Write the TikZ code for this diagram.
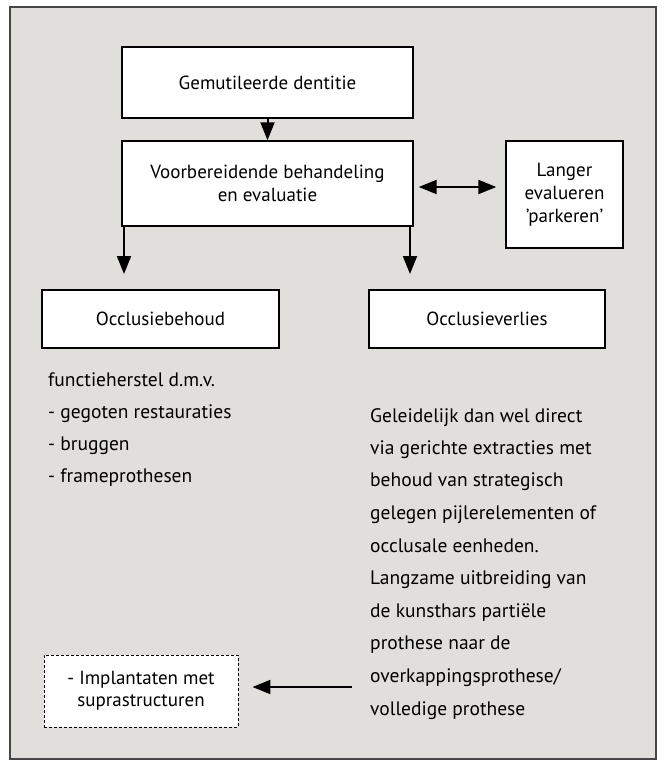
\documentclass[tikz,border=0pt]{standalone}
\usepackage{fontspec}
\setmainfont{PT Sans}
\usetikzlibrary{arrows.meta,calc}
\definecolor{panel}{RGB}{224,223,220}
\definecolor{framecol}{RGB}{70,70,70}
\tikzset{
  boxnode/.style={draw=black,line width=1.4pt,fill=white,align=center,inner sep=2pt,
    font=\fontsize{19}{23}\selectfont},
  dashbox/.style={draw=black,line width=0.9pt,dash pattern=on 3pt off 2pt,fill=white,align=center,
    font=\fontsize{19}{22}\selectfont},
  txt/.style={anchor=base west,inner sep=0pt,font=\fontsize{19.5}{22}\selectfont},
  arr/.style={line width=2pt,-{Triangle[length=18pt,width=14pt]}},
  darr/.style={line width=2pt,{Triangle[length=18pt,width=14pt]}-{Triangle[length=18pt,width=14pt]}}
}
\begin{document}
\begin{tikzpicture}[x=1pt,y=-1pt]
\useasboundingbox (0,0) rectangle (665,766);
\fill[white] (0,0) rectangle (665,766);
\draw[framecol,line width=1.4pt,fill=panel] (10,7) rectangle (656,759);

\node[boxnode,minimum width=291pt,minimum height=71pt] (b1) at (267.5,82.5) {Gemutileerde dentitie};
\node[boxnode,minimum width=291pt,minimum height=85pt] (b2) at (267.5,183.5) {Voorbereidende behandeling\\en evaluatie};
\node[boxnode,minimum width=117pt,minimum height=107pt] (lang) at (564.5,194.5) {Langer\\evalueren\\'parkeren'};
\node[boxnode,minimum width=237pt,minimum height=58pt] (ob) at (160.5,319) {Occlusiebehoud};
\node[boxnode,minimum width=236pt,minimum height=58pt] (ov) at (487,319) {Occlusieverlies};
\node[dashbox,minimum width=194pt,minimum height=72pt] (impl) at (141,691) {- Implantaten met\\suprastructuren};

\coordinate (la) at (124,274);
\coordinate (ra) at (410,274);
\coordinate (bs) at (352,687);

\draw[arr] (b1.south) -- (b2.north);
\draw[arr] (b2.south west -| la) -- (la);
\draw[arr] (b2.south west -| ra) -- (ra);
\draw[darr] ($(b2.east)+(5,3.5)$) -- ($(lang.west)+(-9,-7.5)$);
\draw[arr] (bs) -- ($(impl.east)+(14,-4)$);

\node[txt] (l1) at (48,386) {functieherstel d.m.v.};
\node[txt] (l2) at (48,418) {- gegoten restauraties};
\node[txt] (l3) at (48,450) {- bruggen};
\node[txt] (l4) at (48,482) {- frameprothesen};

\node[txt] (r1) at (370,422) {Geleidelijk dan wel direct};
\node[txt] (r2) at (370,454) {via gerichte extracties met};
\node[txt] (r3) at (370,486) {behoud van strategisch};
\node[txt] (r4) at (370,519) {gelegen pijlerelementen of};
\node[txt] (r5) at (370,552) {occlusale eenheden.};
\node[txt] (r6) at (370,584) {Langzame uitbreiding van};
\node[txt] (r7) at (370,617) {de kunsthars partiële};
\node[txt] (r8) at (370,649) {prothese naar de};
\node[txt] (r9) at (370,682) {overkappingsprothese/};
\node[txt] (r10) at (370,715) {volledige prothese};
\end{tikzpicture}
\end{document}
